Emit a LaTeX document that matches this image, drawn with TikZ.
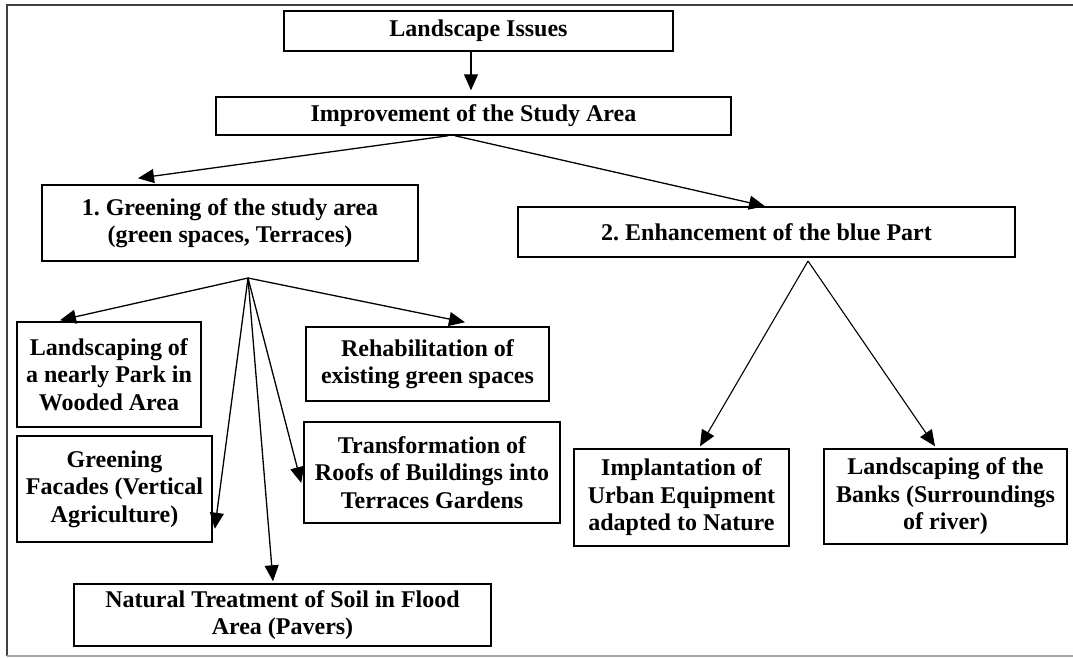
\documentclass[tikz,border=0pt]{standalone}
\usepackage{fontspec}
\setmainfont{Liberation Serif}
\usetikzlibrary{arrows.meta,positioning}

\begin{document}
\begin{tikzpicture}[x=1pt,y=-1pt,
  box/.style={draw,line width=1.5pt,align=center,inner sep=1pt,
    font=\bfseries\fontsize{24}{27.5}\selectfont},
  link/.style={-{Triangle[length=16pt,width=14pt]},line width=1.3pt}]
  \useasboundingbox (0,0) rectangle (1073,657);
  \draw[line width=1.8pt,black!75] (1073,5) -- (7,5) -- (7,656);
  \draw[line width=1.5pt,black!35] (7,656) -- (1073,656);

  \node[box,minimum width=389pt,minimum height=40pt] (issues) at (478.5,31) {Landscape Issues};
  \node[box,minimum width=515pt,minimum height=38pt] (improve) at (473.5,116) {Improvement of the Study Area};
  \node[box,minimum width=376pt,minimum height=76pt] (green) at (230,223) {1.\ Greening of the study area\\(green spaces, Terraces)};
  \node[box,minimum width=497pt,minimum height=50pt] (blue) at (766.5,232) {2.\ Enhancement of the blue Part};

  \node[box,minimum width=184pt,minimum height=105pt] (park) at (109,374.5) {Landscaping of\\a nearly Park in\\Wooded Area};
  \node[box,minimum width=243pt,minimum height=74pt] (rehab) at (427.5,364) {Rehabilitation of\\existing green spaces};
  \node[box,minimum width=195pt,minimum height=106pt] (facade) at (114.5,489) {Greening\\Facades (Vertical\\Agriculture)};
  \node[box,minimum width=256pt,minimum height=101pt] (roofs) at (432,472.5) {Transformation of\\Roofs of Buildings into\\Terraces Gardens};
  \node[box,minimum width=417pt,minimum height=62pt] (soil) at (282.5,615) {Natural Treatment of Soil in Flood\\Area (Pavers)};
  \node[box,minimum width=215pt,minimum height=97pt] (equip) at (681.5,497.5) {Implantation of\\Urban Equipment\\adapted to Nature};
  \node[box,minimum width=243pt,minimum height=95pt] (banks) at (945.5,496.5) {Landscaping of the\\Banks (Surroundings\\of river)};

  \coordinate (hub) at (248,278);
  \coordinate (apex) at (808,261);

  \path[link]
  ([xshift=-7.5pt]issues.south) edge ([xshift=-2.5pt,yshift=6pt]improve.north)
  ([xshift=-25.5pt]improve.south) edge ([xshift=-92pt,yshift=6pt]green.north)
  ([xshift=-18.5pt]improve.south) edge ([xshift=-1.5pt]blue.north)
  (hub) edge ([xshift=-49pt,yshift=1pt]park.north)
        edge ([xshift=37.5pt,yshift=4pt]rehab.north)
        edge ([xshift=2pt,yshift=14pt]facade.south east)
        edge ([xshift=-9.5pt,yshift=2pt]soil.north)
        edge ([xshift=-2pt,yshift=-10.5pt]roofs.west);
  \path[link,line width=1.1pt]
  (apex) edge ([xshift=18.5pt,yshift=2pt]equip.north)
         edge ([xshift=-10.5pt,yshift=2pt]banks.north);
\end{tikzpicture}
\end{document}
